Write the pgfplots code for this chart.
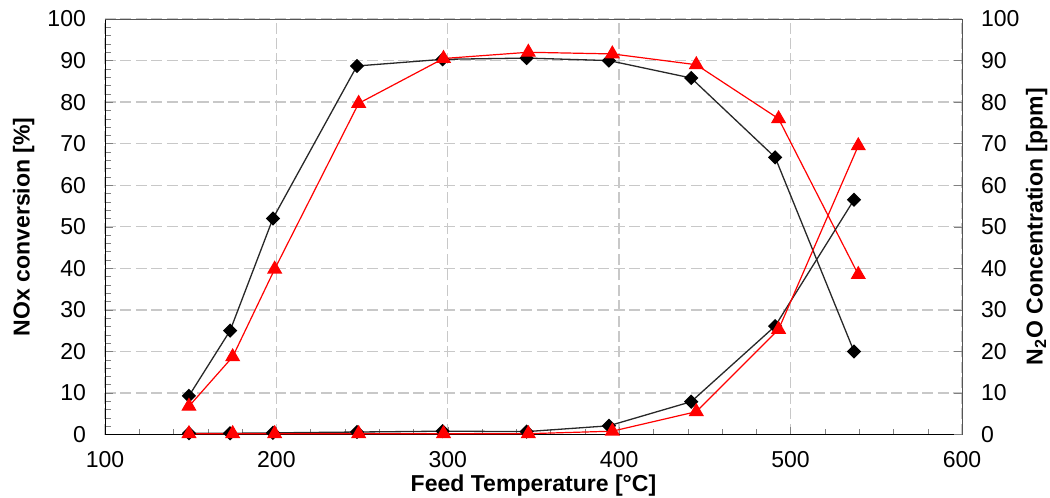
\documentclass[border=0pt]{standalone}
\usepackage{pgfplots}
\pgfplotsset{compat=1.18}
\usepackage{fontspec}
\setmainfont{Liberation Sans}

\definecolor{gridgray}{RGB}{200,200,200}
\definecolor{frame}{RGB}{85,85,85}
\definecolor{lineblack}{RGB}{40,40,40}

\pgfplotsset{
  base/.style={
    scale only axis,
    width=428pt, height=207.5pt,
    xmin=100, xmax=600, ymin=0, ymax=100,
    ytick={0,10,...,100},
    tick label style={font=\fontsize{11.5}{13}\selectfont},
    /pgf/number format/assume math mode=true,
    label style={font=\fontsize{11.5}{13}\selectfont\bfseries},
  },
  blk/.style={color=lineblack, line width=0.65pt, mark=square*,
    mark size=2.2pt, mark options={rotate=45, fill=black, draw=black}},
  rd/.style={color=red, line width=0.6pt, mark=triangle*,
    mark size=3.8pt, mark options={fill=red, draw=red}},
}

\begin{document}
\begin{tikzpicture}
\begin{axis}[
  base,
  axis x line*=bottom, axis y line*=left,
  xtick={100,200,...,600},
  minor x tick num=4,
  minor y tick num=4,
  tick align=inside,
  major tick length=4pt, minor tick length=3pt,
  grid=major,
  major grid style={gridgray, dash pattern=on 5.5pt off 2.2pt, line width=0.7pt},
  xticklabel style={yshift=-5pt},
  yticklabel style={xshift=-6pt},
  xlabel={Feed Temperature [°C]},
  ylabel={NOx conversion [\%]},
  xlabel style={at={(axis description cs:0.5,-0.123)}, anchor=center},
  ylabel style={at={(axis description cs:-0.095,0.5)}, anchor=center, rotate=0},
]
\addplot[blk] coordinates {
  (149,9.3) (173,25) (198,52) (247,88.7) (297,90.3)
  (346,90.6) (394,90) (442,85.8) (491,66.7) (537,20)
};
\addplot[rd] coordinates {
  (149,6.8) (174.5,18.7) (199,39.8) (248,79.7) (297.5,90.5)
  (347,92) (396,91.6) (445,89) (493,76) (539.5,38.5)
};
\coordinate (bl) at (rel axis cs:-0.1225,-0.1518);
\coordinate (tr) at (rel axis cs:1.1027,1.0458);
\end{axis}
\begin{axis}[
  base,
  axis x line*=top, axis y line*=right,
  xtick=\empty,
  axis line style={frame},
  tick align=inside,
  major tick length=4pt,
  yticklabel style={xshift=6pt},
  ylabel={N\textsubscript{2}O Concentration [ppm]},
  ylabel style={at={(axis description cs:1.087,0.5)}, anchor=center, rotate=0},
]
\addplot[blk] coordinates {
  (149,0.3) (173,0.3) (198,0.4) (247,0.6) (297,0.8)
  (346,0.7) (394,2.1) (442,7.9) (491,26.1) (537,56.5)
};
\addplot[rd] coordinates {
  (149,0.2) (174.5,0.2) (199,0.2) (248,0.2) (297.5,0.2)
  (347,0.2) (396,0.8) (445,5.5) (493,25.3) (539.5,69.5)
};
\end{axis}
\pgfresetboundingbox
\useasboundingbox (bl) rectangle (tr);
\end{tikzpicture}
\end{document}
